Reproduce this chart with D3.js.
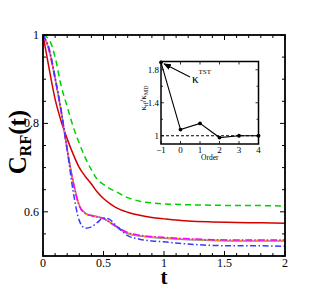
<!DOCTYPE html>
<html><head><meta charset="utf-8">
<script src="https://cdn.jsdelivr.net/npm/d3@7"></script>
<style>body{margin:0;background:#fff}svg{display:block}text{font-family:"Liberation Serif","Times New Roman",serif}</style>
</head><body>
<svg id="c" width="325" height="289"></svg>
<script>
const tVals = [0,0.05,0.1,0.15,0.2,0.25,0.3,0.35,0.4,0.45,0.5,0.55,0.6,0.7,0.8,0.9,1.0,1.2,1.4,1.6,1.8,2.0];
const greenVals   = [1,0.99,0.95,0.885,0.838,0.792,0.755,0.722,0.695,0.673,0.662,0.653,0.646,0.632,0.624,0.62,0.618,0.616,0.615,0.614,0.614,0.613];
const redVals     = [1,0.925,0.855,0.805,0.765,0.73,0.7,0.68,0.663,0.644,0.63,0.619,0.61,0.599,0.592,0.587,0.584,0.579,0.577,0.576,0.575,0.574];
const grayVals    = [1,0.967,0.902,0.828,0.742,0.668,0.615,0.597,0.592,0.589,0.585,0.576,0.567,0.551,0.545,0.542,0.54,0.537,0.535,0.534,0.534,0.534];
const orangeVals  = [1,0.966,0.901,0.827,0.741,0.667,0.614,0.596,0.591,0.588,0.585,0.577,0.568,0.552,0.546,0.543,0.541,0.538,0.536,0.535,0.535,0.535];
const magentaVals = [1,0.965,0.9,0.826,0.74,0.666,0.613,0.596,0.591,0.588,0.585,0.577,0.568,0.553,0.547,0.544,0.542,0.539,0.537,0.536,0.536,0.536];
const blueVals    = [1,0.97,0.905,0.83,0.74,0.645,0.58,0.563,0.566,0.576,0.586,0.583,0.57,0.546,0.538,0.534,0.532,0.527,0.524,0.523,0.523,0.522];
const xTicks = [0,0.5,1,1.5,2];
const xTickLabels = ["0","0.5","1","1.5","2"];
const yTicks = [0.6,0.8,1];
const yTickLabels = ["0.6","0.8","1"];

const insetOrder = [-1,0,1,2,3,4];
const insetRatio = [1.89,1.075,1.15,0.978,1.0,1.0];
const insetYTicks = [1,1.4,1.8];
const insetYTickLabels = ["1","1.4","1.8"];

const series = [
  {v: greenVals,   color:"#00d000", dash:"6,4",        w:1.5},
  {v: redVals,     color:"#d40000", dash:null,         w:1.5},
  {v: grayVals,    color:"#8a8a8a", dash:null,         w:1.5},
  {v: orangeVals,  color:"#ff9900", dash:"5,3",        w:1.5},
  {v: magentaVals, color:"#ff00ff", dash:"7,2,1.5,2",  w:1.5},
  {v: blueVals,    color:"#3a3aff", dash:"6,2.5,1.5,2.5", w:1.5}
];

const svg = d3.select("#c");
const L=43,R=285,T=35,B=256;
const x = d3.scaleLinear().domain([0,2]).range([L,R]);
const y = d3.scaleLinear().domain([0.5,1]).range([B,T]);

const line = d3.line().x((d,i)=>x(tVals[i])).y(d=>y(d)).curve(d3.curveMonotoneX);
svg.append("clipPath").attr("id","pc").append("rect").attr("x",L).attr("y",T).attr("width",R-L).attr("height",B-T);
const g = svg.append("g").attr("clip-path","url(#pc)");
series.forEach(s=>{
  g.append("path").datum(s.v).attr("d",line).attr("fill","none")
   .attr("stroke",s.color).attr("stroke-width",s.w).attr("stroke-dasharray",s.dash);
});

function tickAxes(xs, ys, x0,x1,y0,y1, xMajor, xMinor, yMajor, yMinor, major, minor, sw, parent){
  const a = parent.append("g").attr("stroke","#000").attr("stroke-width",sw);
  xMinor.forEach(t=>{ const px=xs(t);
    a.append("line").attr("x1",px).attr("x2",px).attr("y1",y1).attr("y2",y1-minor);
    a.append("line").attr("x1",px).attr("x2",px).attr("y1",y0).attr("y2",y0+minor);});
  xMajor.forEach(t=>{ const px=xs(t);
    a.append("line").attr("x1",px).attr("x2",px).attr("y1",y1).attr("y2",y1-major);
    a.append("line").attr("x1",px).attr("x2",px).attr("y1",y0).attr("y2",y0+major);});
  yMinor.forEach(t=>{ const py=ys(t);
    a.append("line").attr("x1",x0).attr("x2",x0+minor).attr("y1",py).attr("y2",py);
    a.append("line").attr("x1",x1).attr("x2",x1-minor).attr("y1",py).attr("y2",py);});
  yMajor.forEach(t=>{ const py=ys(t);
    a.append("line").attr("x1",x0).attr("x2",x0+major).attr("y1",py).attr("y2",py);
    a.append("line").attr("x1",x1).attr("x2",x1-major).attr("y1",py).attr("y2",py);});
}
const xMinorT = d3.range(0,2.001,0.1).filter(t=>Math.abs(t*2-Math.round(t*2))>1e-6);
const yMinorT = d3.range(0.5,1.001,0.05).filter(t=>Math.abs(t*5-Math.round(t*5))>1e-6);
tickAxes(x,y,L,R,T,B,xTicks,xMinorT,yTicks,yMinorT,5,3,1,svg);
svg.append("rect").attr("x",L).attr("y",T).attr("width",R-L).attr("height",B-T)
  .attr("fill","none").attr("stroke","#000").attr("stroke-width",1.8);

xTicks.forEach((t,i)=>svg.append("text").attr("x",x(t)).attr("y",B+11).attr("text-anchor","middle")
  .attr("font-size",12).text(xTickLabels[i]));
yTicks.forEach((t,i)=>svg.append("text").attr("x",L-4).attr("y",y(t)+4).attr("text-anchor","end")
  .attr("font-size",12).text(yTickLabels[i]));

svg.append("text").attr("x",(L+R)/2).attr("y",284).attr("text-anchor","middle")
  .attr("font-size",21).attr("font-weight","bold").text("t");
const yl = svg.append("text").attr("transform","translate(26,142) rotate(-90)").attr("text-anchor","middle")
  .attr("font-size",25).attr("font-weight","bold");
yl.append("tspan").text("C");
yl.append("tspan").attr("font-size",16).attr("dy",5).text("RF");
yl.append("tspan").attr("dy",-5).text("(t)");

// inset
const iL=161,iR=258.5,iT=61.5,iB=144;
const ix = d3.scaleLinear().domain([-1,4]).range([iL,iR]);
const iy = d3.scaleLinear().domain([0.9,1.9]).range([iB,iT]);
svg.append("rect").attr("x",iL).attr("y",iT).attr("width",iR-iL).attr("height",iB-iT).attr("fill","#fff");
tickAxes(ix,iy,iL,iR,iT,iB,insetOrder,[],insetYTicks,[1.2,1.6],3,2,0.8,svg);
svg.append("line").attr("x1",ix(-1)).attr("x2",ix(4)).attr("y1",iy(1)).attr("y2",iy(1))
  .attr("stroke","#000").attr("stroke-width",1).attr("stroke-dasharray","3,2");
const il = d3.line().x((d,i)=>ix(insetOrder[i])).y(d=>iy(d));
svg.append("path").datum(insetRatio).attr("d",il).attr("fill","none").attr("stroke","#000").attr("stroke-width",1.1);
svg.selectAll(".pt").data(insetRatio).enter().append("circle").attr("cx",(d,i)=>ix(insetOrder[i])).attr("cy",d=>iy(d))
  .attr("r",1.9).attr("fill","#000");
svg.append("rect").attr("x",iL).attr("y",iT).attr("width",iR-iL).attr("height",iB-iT)
  .attr("fill","none").attr("stroke","#000").attr("stroke-width",1.5);
insetOrder.forEach(t=>svg.append("text").attr("x",ix(t)).attr("y",iB+9).attr("text-anchor","middle")
  .attr("font-size",9).text(t<0?"\u2212"+(-t):String(t)));
insetYTicks.forEach((t,i)=>svg.append("text").attr("x",iL-2).attr("y",iy(t)+3).attr("text-anchor","end")
  .attr("font-size",9).text(insetYTickLabels[i]));
svg.append("text").attr("x",(iL+iR)/2).attr("y",iB+16).attr("text-anchor","middle").attr("font-size",7.5).text("Order");
const iyl = svg.append("text").attr("transform","translate(146,98) rotate(-90)").attr("text-anchor","middle").attr("font-size",9);
iyl.append("tspan").text("\u03ba");
iyl.append("tspan").attr("font-size",6).attr("dy",2).text("tf");
iyl.append("tspan").attr("dy",-2).text("/\u03ba");
iyl.append("tspan").attr("font-size",6).attr("dy",2).text("MD");

const defs = svg.append("defs");
defs.append("marker").attr("id","ah").attr("viewBox","0 0 10 10").attr("refX",9).attr("refY",5)
  .attr("markerWidth",7).attr("markerHeight",7).attr("orient","auto")
  .append("path").attr("d","M0,1 L10,5 L0,9 Z").attr("fill","#000");
svg.append("line").attr("x1",190).attr("y1",77).attr("x2",ix(-1)+3).attr("y2",iy(insetRatio[0])+1.5)
  .attr("stroke","#000").attr("stroke-width",1.1).attr("marker-end","url(#ah)");
const kt = svg.append("text").attr("x",192).attr("y",83).attr("font-size",13);
kt.append("tspan").text("\u03ba");
kt.append("tspan").attr("font-size",7).attr("dy",-9).text("TST");
</script>
</body></html>
